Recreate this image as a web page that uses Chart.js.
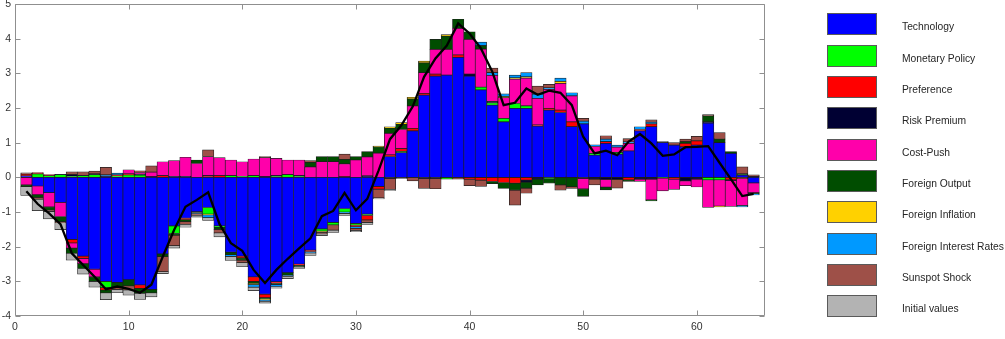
<!DOCTYPE html>
<html>
<head>
<meta charset="utf-8">
<title>Historical shock decomposition</title>
<script src="https://cdn.jsdelivr.net/npm/chart.js@4.4.1/dist/chart.umd.min.js"></script>
<style>
  html, body { margin: 0; padding: 0; background: #fff; }
  #wrap { position: relative; width: 1005px; height: 339px; }
  #chart { position: absolute; left: 0; top: 0; }
  #legend { position: absolute; left: 0; top: 0; width: 1005px; height: 339px; pointer-events: none;
            font-family: 'Liberation Sans', Arial, Helvetica, sans-serif; font-size: 10.3px; color: #262626; }
  .sw { position: absolute; left: 827px; width: 48px; height: 20px; border: 1px solid #5a5a5a; }
  .lb { position: absolute; left: 902px; white-space: nowrap; line-height: 12px; }
</style>
</head>
<body>
<div id="wrap">
  <canvas id="chart" width="1005" height="339"></canvas>
  <div id="legend"></div>
</div>
<script>
// periods on the horizontal axis
var periods = [1,2,3,4,5,6,7,8,9,10,11,12,13,14,15,16,17,18,19,20,21,22,23,24,25,26,27,28,29,30,
  31,32,33,34,35,36,37,38,39,40,41,42,43,44,45,46,47,48,49,50,51,52,53,54,55,56,57,58,59,60,
  61,62,63,64,65];

var xTicks = [0, 10, 20, 30, 40, 50, 60];
var yTicks = [-4, -3, -2, -1, 0, 1, 2, 3, 4, 5];

var shockNames = ['Technology', 'Monetary Policy', 'Preference', 'Risk Premium', 'Cost-Push',
  'Foreign Output', 'Foreign Inflation', 'Foreign Interest Rates', 'Sunspot Shock', 'Initial values'];
var shockColors = ['#0000ff', '#00ff00', '#ff0000', '#000033', '#ff00aa',
  '#004d00', '#ffd100', '#0099ff', '#9e5048', '#b3b3b3'];

// contribution of each shock, period by period
var technology = [0.04,-0.25,-0.44,-0.72,-1.79,-2.27,-2.65,-3.0,-3.03,-2.95,-3.1,-3.23,-2.21,-1.4,-1.18,-0.99,-0.87,-1.4,-2.16,-2.27,
  -2.87,-3.37,-3.01,-2.75,-2.5,-2.1,-1.49,-1.3,-0.9,-1.33,-1.06,-0.26,0.6,0.71,1.34,2.37,2.92,2.95,3.46,2.92,
  2.52,2.08,1.6,1.99,1.99,1.48,1.94,1.87,1.46,1.54,0.64,0.98,0.67,0.76,1.34,1.46,1.0,0.93,0.88,0.93,
  1.56,1.0,0.69,0.06,-0.16];
var monetary = [0,0.1,0.05,0.08,0.03,0.05,0.08,-0.18,0.04,0.07,0.06,0,0,-0.22,0,0,-0.19,-0.03,0.05,0.03,
  0.05,0,0.03,0.08,0.03,0,-0.06,-0.07,-0.1,-0.05,-0.04,0,0,0.04,0,0,0,-0.05,0,0,
  0.08,0.07,0.1,0.14,0.07,0,-0.04,0,0,0,0.05,0,0.05,0,0,0,-0.02,0,0,0,
  -0.07,-0.07,0,0,0];
var preference = [0.05,0.04,0.03,0,-0.1,-0.07,0,-0.07,0.03,0.03,-0.1,0,0.05,0,-0.04,0,0.03,0.05,0,-0.05,
  -0.13,-0.1,-0.04,0,-0.04,-0.04,0,0,0.02,-0.04,-0.13,-0.08,0.05,0.08,0.07,0.05,0.06,0,0.07,-0.05,
  -0.08,-0.12,-0.15,-0.17,-0.08,0.03,0.05,0.07,0.14,0,0,0.05,0,-0.07,0.04,0.08,0,-0.05,0.1,0.12,
  0,0,-0.07,-0.04,0];
var riskPremium = [0,0,0,0.01,0.05,0.01,0.02,0.04,0,0,0.03,0.02,0,0.03,0.03,0,0.02,0,0,0,
  0,0.02,0.02,0,0.02,0,0,0,0,0,0.04,0,-0.03,-0.03,0,-0.03,-0.03,0,0,0.06,
  0,0.04,0,0,-0.06,-0.05,0,0,0,-0.03,-0.05,-0.06,-0.06,0,-0.05,-0.05,0.03,0,-0.1,-0.05,
  0.04,0,-0.02,0,0.02];
var costPush = [-0.22,-0.25,-0.41,-0.41,-0.15,-0.15,-0.22,0,0,0.12,0.05,0.13,0.4,0.45,0.55,0.4,0.55,0.52,0.45,0.42,
  0.48,0.55,0.5,0.42,0.45,0.3,0.45,0.45,0.37,0.5,0.55,0.7,0.62,0.55,0.65,0.6,0.71,0.74,0.77,1.0,
  1.1,0.75,0.6,0.7,0.8,0.77,0.55,0.77,0.75,-0.3,0.2,-0.22,0.15,0.22,-0.07,-0.6,-0.37,-0.3,-0.14,-0.23,
  -0.8,-0.76,-0.75,-0.77,-0.28];
var foreignOutput = [-0.05,-0.08,-0.1,-0.15,-0.15,-0.14,-0.13,-0.08,-0.15,-0.18,-0.15,-0.1,-0.08,-0.05,-0.06,0.1,0,-0.07,-0.07,-0.07,
  -0.06,-0.04,-0.04,-0.07,-0.04,0.13,0.15,0.15,0.13,0.1,0.15,0.18,0.15,0.15,0.2,0.28,0.29,0.38,0.26,0.22,
  0.1,-0.06,-0.17,-0.2,-0.17,-0.17,-0.13,-0.22,-0.27,-0.22,0,-0.08,0,-0.05,0,-0.03,0,0,0.05,0,
  0.17,0.1,0.05,0.04,-0.03];
var foreignInflation = [0,0,0,0,0,0,0,0,0,0,0,0,0,0,0,-0.02,-0.02,0,0,0,
  -0.03,-0.03,0,0,0,0,-0.04,0,0,0,0,0.02,0.04,0.05,0.05,0.05,0,0.05,0,0,
  0,0,0.03,0.04,0.04,0,0,0.06,0,0,0,0,0,0,0,0,0,0,0,0,
  0,-0.02,0,0,0];
var foreignRates = [0,0,0,0,0,0,0,0.03,0.05,0,0,0,0,0,0,-0.04,-0.08,0,-0.05,0,
  -0.08,-0.03,-0.06,-0.04,0,-0.04,0,0,-0.04,-0.05,0,0,0,0,0,0,0,0,0,0,
  0.1,0.08,0.08,0.08,0.12,0.12,0.04,0.09,0.09,0.08,0.05,0.07,0.06,0.04,0.08,0.05,0,0,0,0,
  0,0,0,-0.04,-0.04];
var sunspot = [0.04,-0.05,-0.03,-0.03,0.08,0.1,0.08,0.22,-0.05,-0.12,0.05,0.18,-0.43,-0.3,-0.08,-0.04,0.19,-0.1,0,-0.07,
  0,0.03,0,0,0,0.05,-0.04,-0.15,0.15,-0.06,-0.07,-0.25,-0.32,0,-0.1,-0.29,-0.3,0,-0.05,-0.19,
  -0.18,0.13,0,-0.43,-0.15,0.23,0.1,-0.15,-0.05,0.08,-0.17,0.1,-0.25,0.1,0,0.07,0,0.07,0.07,0.13,
  0.04,0.19,0,0.2,0.05];
var initialValues = [-0.25,-0.33,-0.22,-0.2,-0.2,-0.16,-0.17,-0.2,-0.1,-0.15,-0.17,-0.12,-0.06,-0.07,-0.08,-0.06,-0.08,-0.12,-0.12,-0.12,
  -0.1,-0.06,-0.05,-0.06,-0.05,-0.07,-0.05,-0.07,-0.06,-0.04,-0.06,-0.03,-0.03,0,0,0,0,0,0,0,
  0,0,0,0,0,0,0,0,0,0,0,0,0,0,0,0,0,0,0,0,
  0,0,0,0,0];

// observed series (black line)
var observed = [-0.4,-0.77,-1.04,-1.35,-2.19,-2.53,-2.87,-3.23,-3.15,-3.22,-3.33,-3.1,-2.29,-1.52,-0.85,-0.65,-0.43,-1.35,-1.9,-2.12,
  -2.67,-3.05,-2.67,-2.35,-2.05,-1.76,-1.12,-0.97,-0.45,-0.95,-0.62,0.2,1.1,1.5,2.04,2.9,3.43,3.8,4.44,4.15,
  3.72,3.05,2.08,2.15,2.56,2.38,2.5,2.44,2.08,1.17,0.69,0.77,0.64,1.03,1.25,0.98,0.62,0.66,0.87,0.88,
  0.9,0.42,-0.05,-0.54,-0.48];

var shockSeries = [technology, monetary, preference, riskPremium, costPush,
  foreignOutput, foreignInflation, foreignRates, sunspot, initialValues];

function toPoints(vals) {
  return vals.map(function(v, i) { return { x: periods[i], y: v }; });
}

var datasets = shockSeries.map(function(vals, k) {
  return {
    type: 'bar',
    label: shockNames[k],
    data: toPoints(vals),
    backgroundColor: shockColors[k],
    borderColor: '#1e1e1e',
    borderWidth: 0.7,
    borderSkipped: false,
    barPercentage: 1,
    categoryPercentage: 1,
    stack: 'shocks'
  };
});

datasets.push({
  type: 'line',
  label: 'Observed',
  data: toPoints(observed),
  borderColor: '#000',
  borderWidth: 2.3,
  pointRadius: 0,
  tension: 0,
  fill: false,
  stack: 'observed',
  order: -1
});

// MATLAB style axis box with inward tick marks
var axisBox = {
  id: 'axisBox',
  afterDraw: function(chart) {
    var ctx = chart.ctx, a = chart.chartArea;
    var xs = chart.scales.x, ys = chart.scales.y;
    var L = Math.round(a.left) + 0.5, R = Math.round(a.right) - 0.5;
    var T = Math.round(a.top) + 0.5, B = Math.round(a.bottom) - 0.5;
    ctx.save();
    ctx.strokeStyle = '#8f8f8f';
    ctx.lineWidth = 1;
    ctx.beginPath();
    ctx.rect(L, T, R - L, B - T);
    yTicks.forEach(function(v) {
      var py = Math.round(ys.getPixelForValue(v)) + 0.5;
      ctx.moveTo(L, py); ctx.lineTo(L + 5, py);
      ctx.moveTo(R, py); ctx.lineTo(R - 5, py);
    });
    xTicks.forEach(function(v) {
      var px = Math.round(xs.getPixelForValue(v)) + 0.5;
      ctx.moveTo(px, B); ctx.lineTo(px, B - 5);
      ctx.moveTo(px, T); ctx.lineTo(px, T + 5);
    });
    ctx.stroke();
    ctx.restore();
  }
};

Chart.defaults.font.family = "'Liberation Sans', Arial, Helvetica, sans-serif";

new Chart(document.getElementById('chart'), {
  data: { datasets: datasets },
  options: {
    responsive: false,
    animation: false,
    devicePixelRatio: 1,
    layout: { padding: { top: 4, right: 240, bottom: 0, left: 0 } },
    plugins: { legend: { display: false }, tooltip: { enabled: false } },
    scales: {
      x: {
        type: 'linear', min: 0, max: 66, stacked: true, offset: false,
        grid: { display: false, drawTicks: false }, border: { display: false },
        ticks: { stepSize: 10, includeBounds: false, padding: 5, color: '#333', font: { size: 10.5 } },
        afterFit: function(s) { s.height = 23; s.paddingLeft = 0; s.paddingRight = 0; }
      },
      y: {
        min: -4, max: 5, stacked: true,
        grid: { display: false, drawTicks: false }, border: { display: false },
        ticks: { stepSize: 1, padding: 4, color: '#333', font: { size: 10.5 } },
        afterFit: function(s) { s.width = 15; s.paddingTop = 0; s.paddingBottom = 0; }
      }
    }
  },
  plugins: [axisBox]
});

// legend on the right
var legend = document.getElementById('legend');
shockNames.forEach(function(name, i) {
  var top = 13.3 + 31.35 * i;
  var sw = document.createElement('div');
  sw.className = 'sw';
  sw.style.top = top + 'px';
  sw.style.background = shockColors[i];
  legend.appendChild(sw);
  var lb = document.createElement('div');
  lb.className = 'lb';
  lb.style.top = (top + 8) + 'px';
  lb.textContent = name;
  legend.appendChild(lb);
});
</script>
</body>
</html>
